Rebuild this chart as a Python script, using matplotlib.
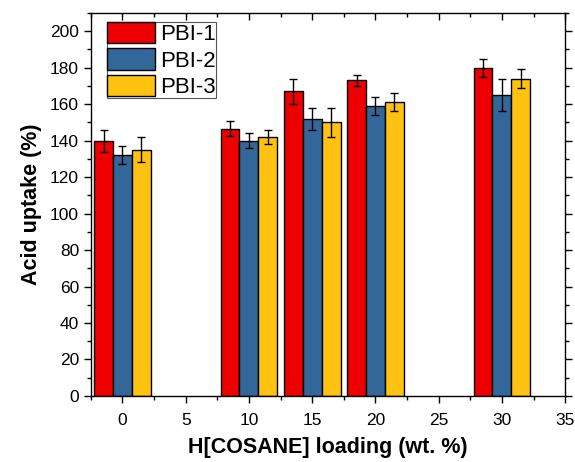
import numpy as np
import matplotlib
matplotlib.use('Agg')
import matplotlib.pyplot as plt
from matplotlib.ticker import MultipleLocator

loading = [0, 10, 15, 20, 30]
series = ['PBI-1', 'PBI-2', 'PBI-3']
pbi1 = [140, 146.5, 167, 173, 180]
pbi2 = [132, 140, 152, 159, 165]
pbi3 = [135, 142, 150, 161, 174]
pbi1_err = [6, 4, 7, 3, 5]
pbi2_err = [5, 4, 6, 5, 9]
pbi3_err = [7, 4, 8, 5, 5]
colors = ['#EE0000', '#336699', '#FFC211']

plt.rcParams.update({
    'font.family': ['Liberation Sans', 'DejaVu Sans'],
    'font.size': 12.5,
    'axes.linewidth': 1.0,
})

fig = plt.figure(figsize=(5.75, 4.62), dpi=100)
ax = fig.add_axes([0.158, 0.143, 0.825, 0.829])

x = np.array(loading, dtype=float)
width = 1.5
values = [pbi1, pbi2, pbi3]
errors = [pbi1_err, pbi2_err, pbi3_err]
for i, (name, vals, errs, c) in enumerate(zip(series, values, errors, colors)):
    ax.bar(x + (i - 1) * width, vals, width, yerr=errs, color=c,
           edgecolor='black', linewidth=1.0, label=name,
           error_kw=dict(ecolor='black', elinewidth=1.0, capsize=3, capthick=1.0))

ax.set_xlim(-2.5, 35)
ax.set_ylim(0, 210)
ax.xaxis.set_major_locator(MultipleLocator(5))
ax.xaxis.set_minor_locator(MultipleLocator(2.5))
ax.yaxis.set_major_locator(MultipleLocator(20))
ax.yaxis.set_minor_locator(MultipleLocator(10))

ax.tick_params(which='both', top=True, right=True, direction='out')
ax.tick_params(which='major', length=5, width=1.0)
ax.tick_params(which='minor', length=3, width=1.0)
ax.tick_params(axis='x', which='major', pad=7)
# top and right ticks point inward
for t in ax.xaxis.get_major_ticks() + ax.xaxis.get_minor_ticks():
    t.tick2line.set_marker(3)
for t in ax.yaxis.get_major_ticks() + ax.yaxis.get_minor_ticks():
    t.tick2line.set_marker(1)

ax.set_xlabel('H[COSANE] loading (wt. %)', fontsize=15.5, fontweight='bold', labelpad=7)
ax.set_ylabel('Acid uptake (%)', fontsize=15.5, fontweight='bold', labelpad=6)

leg = ax.legend(loc='upper left', bbox_to_anchor=(0.033, 0.977), fontsize=16,
                frameon=True, fancybox=False, edgecolor='#555555', framealpha=1,
                handlelength=2.2, handleheight=1.1, handletextpad=0.2,
                borderpad=0.0, labelspacing=0.15, borderaxespad=0)
leg.get_frame().set_linewidth(0.8)

fig.savefig('out.png', dpi=100)
